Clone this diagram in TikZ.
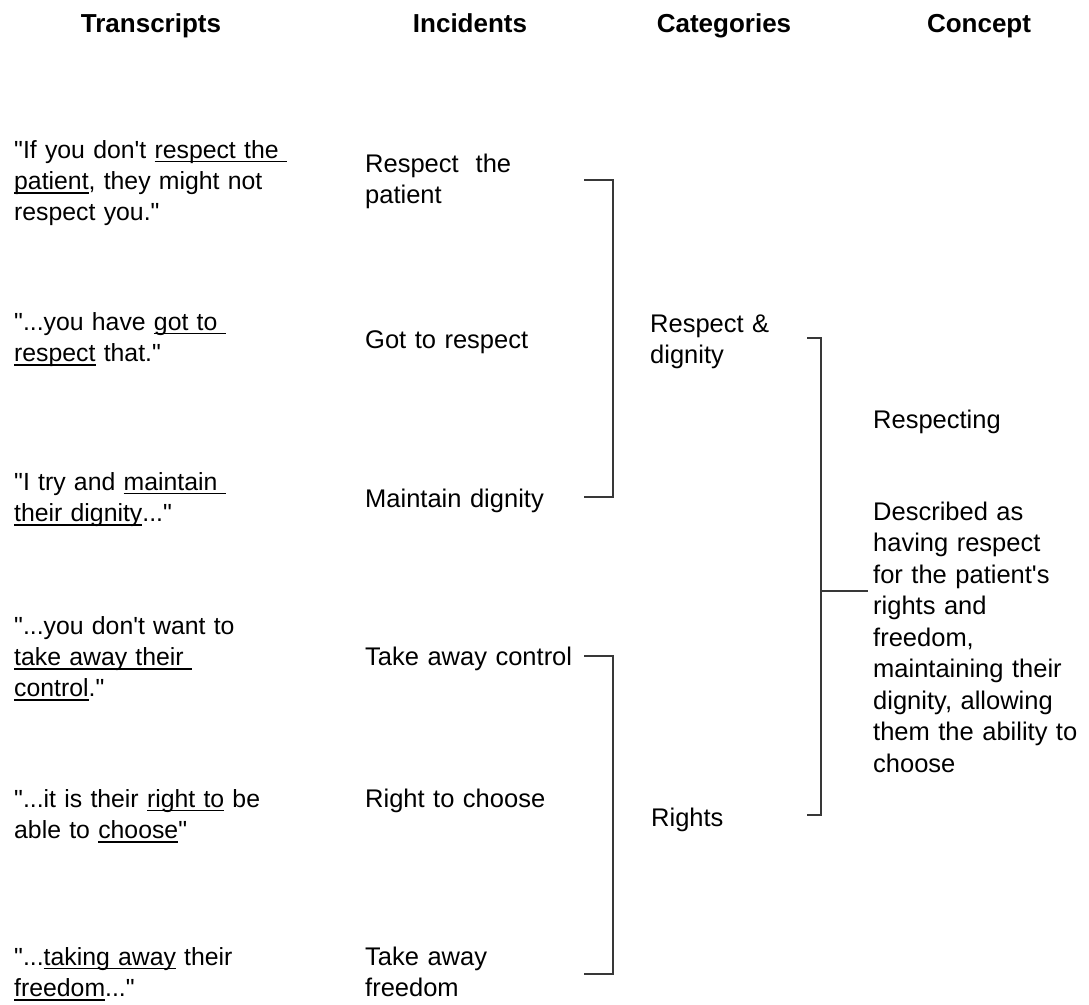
\documentclass[tikz,border=0pt]{standalone}
\usepackage{fontspec}
\newfontfamily\arialf{Liberation Sans}
% underline drawn at a fixed depth below the baseline, through descenders
\newcommand\uword[1]{\leavevmode\setbox0\hbox{#1}\rlap{\rule[-4.3pt]{\wd0}{1.4pt}}\box0\relax}
\tikzset{
  txt/.style={anchor=base west, inner sep=0pt, align=left, text width=340pt,
    font=\arialf\fontsize{25.5}{31.5}\selectfont},
  quote/.style={txt, font=\arialf\fontsize{24.8}{31.2}\selectfont},
  head/.style={anchor=base, inner sep=0pt,
    font=\arialf\bfseries\fontsize{26}{30}\selectfont},
  link/.style={draw=black!78, line width=1.3pt}
}
\begin{document}
\begin{tikzpicture}[x=1pt,y=-1pt]
\useasboundingbox (0,0) rectangle (1089,1004);

% column headings
\node[head] (hT) at (151,32) {Transcripts};
\node[head] (hI) at (470,32) {Incidents};
\node[head] (hC) at (724,32) {Categories};
\node[head] (hK) at (979,32) {Concept};

% transcript quotes
\node[quote] (q1) at (14,158) {"If you don't \uword{respect the\ }\\\uword{patient}, they might not\\respect you."};
\node[quote] (q2) at (14,330) {"...you have \uword{got to\ }\\\uword{respect} that."};
\node[quote] (q3) at (14,490) {"I try and \uword{maintain\ }\\\uword{their dignity}..."};
\node[quote] (q4) at (14,634) {"...you don't want to\\\uword{take away their\ }\\\uword{control}."};
\node[quote] (q5) at (14,807) {"...it is their \uword{right to} be\\able to \uword{choose}"};
\node[quote] (q6) at (14,965) {"...\uword{taking away} their\\\uword{freedom}..."};

% incidents
\node[txt] (i1) at (365,172) {Respect\ \ the\\patient};
\node[txt] (i2) at (365,348) {Got to respect};
\node[txt] (i3) at (365,507) {Maintain dignity};
\node[txt] (i4) at (365,665) {Take away control};
\node[txt] (i5) at (365,807) {Right to choose};
\node[txt] (i6) at (365,965) {Take away\\freedom};

% categories
\node[txt] (c1) at (650,332) {Respect \&\\dignity};
\node[txt] (c2) at (651,826) {Rights};

% concept
\node[txt] (k1) at (873,428) {Respecting};
\node[txt] (k2) at (873,520) {Described as\\having respect\\for the patient's\\rights and\\freedom,\\maintaining their\\dignity, allowing\\them the ability to\\choose};

% bracket ends
\coordinate (b1t) at (584,180);
\coordinate (b1b) at (584,497);
\coordinate (b2t) at (584,656);
\coordinate (b2b) at (584,974);
\coordinate (b3t) at (807,338);
\coordinate (b3b) at (807,815);
\coordinate (b3m) at (821,591);
\coordinate (b3e) at (868,591);

% brackets grouping incidents into categories, categories into the concept
\draw[link] (b1t) -- ++(29,0) |- (b1b);
\draw[link] (b2t) -- ++(29,0) |- (b2b);
\draw[link] (b3t) -- ++(14,0) |- (b3b);
\draw[link] (b3m) -- (b3e);
\end{tikzpicture}
\end{document}
